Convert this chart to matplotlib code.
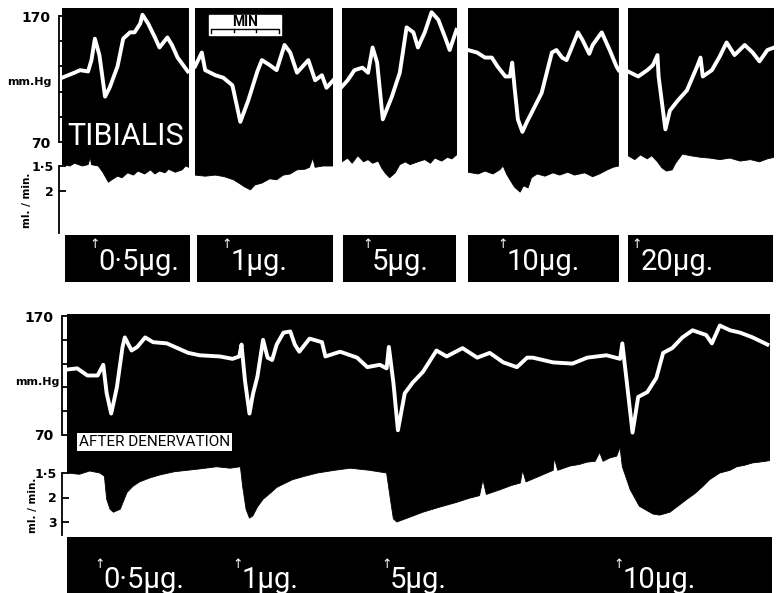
"""
Kymograph record: tibialis blood pressure and venous outflow after
injections of adrenaline, before and after denervation.
"""

import numpy as np
import matplotlib
matplotlib.use("Agg")
import matplotlib.pyplot as plt
from matplotlib.patches import Rectangle
from matplotlib.ticker import NullLocator
from matplotlib.transforms import blended_transform_factory

W, H = 776, 593
SEC_PER_PX = 60.0 / 68.0          # paper speed: the 1 min bar is 68 px long
LABEL_FONT = ["Roboto", "DejaVu Sans"]

# ---- innervated tibialis, one strip per dose --------------------------------
# time (s from strip start), pressure (mm Hg), outflow (ml/min)
doses = ["0·5µg.", "1µg.", "5µg.", "10µg.", "20µg."]
inject_s = [29, 28, 23, 31, 8]

bp_t_1 = [0, 11, 16, 23, 26, 29, 33, 38, 42, 49, 54, 60, 64, 69, 71, 76, 82, 86, 93, 97, 102, 111]
bp_1 = [121, 125, 127, 126, 135, 152, 139, 106, 113, 130, 152, 157, 157, 164, 171, 164, 153, 145, 153, 147, 137, 126]
flow_t_1 = [0, 7, 11, 18, 23, 25, 26, 32, 36, 41, 44, 49, 53, 58, 63, 67, 73, 78, 82, 86, 91, 94, 100, 106, 109, 112]
flow_1 = [1.48, 1.50, 1.46, 1.50, 1.48, 1.38, 1.48, 1.50, 1.60, 1.79, 1.74, 1.67, 1.70, 1.61, 1.65, 1.58,
          1.63, 1.56, 1.63, 1.58, 1.61, 1.55, 1.60, 1.56, 1.50, 1.52]

bp_t_2 = [0, 6, 9, 18, 25, 33, 40, 47, 55, 59, 66, 72, 79, 84, 90, 95, 100, 106, 112, 116, 122]
bp_2 = [130, 141, 127, 123, 121, 115, 86, 103, 126, 135, 131, 127, 147, 141, 125, 130, 135, 119, 123, 113, 119]
flow_t_2 = [0, 9, 18, 26, 34, 40, 44, 49, 53, 59, 66, 72, 78, 84, 90, 97, 101, 104, 106, 113, 122]
flow_2 = [1.65, 1.67, 1.65, 1.68, 1.74, 1.83, 1.90, 1.97, 1.85, 1.81, 1.72, 1.74, 1.65, 1.63, 1.56, 1.55,
          1.52, 1.39, 1.52, 1.50, 1.50]

bp_t_3 = [0, 5, 11, 18, 23, 27, 31, 36, 44, 51, 57, 63, 67, 73, 79, 85, 91, 95, 101]
bp_3 = [114, 119, 127, 129, 125, 145, 133, 88, 106, 125, 161, 157, 145, 157, 173, 167, 153, 143, 159]
flow_t_3 = [0, 5, 9, 14, 19, 23, 27, 32, 35, 38, 42, 47, 51, 56, 60, 67, 73, 78, 82, 88, 93, 97, 102]
flow_3 = [1.44, 1.39, 1.46, 1.36, 1.44, 1.41, 1.46, 1.43, 1.53, 1.61, 1.70, 1.61, 1.48, 1.44, 1.48, 1.44,
          1.41, 1.46, 1.39, 1.43, 1.38, 1.40, 1.34]

bp_t_4 = [0, 8, 15, 21, 26, 33, 37, 39, 41, 44, 48, 52, 56, 65, 74, 78, 83, 87, 97, 101, 107, 110, 118, 125, 131, 133]
bp_4 = [143, 141, 137, 137, 130, 122, 122, 133, 114, 88, 78, 86, 93, 109, 141, 143, 137, 135, 157, 151,
        140, 147, 157, 143, 130, 127]
flow_t_4 = [0, 9, 15, 22, 28, 31, 34, 37, 41, 46, 49, 53, 56, 61, 68, 75, 81, 88, 94, 103, 110, 116, 123, 128, 133]
flow_4 = [1.60, 1.63, 1.58, 1.63, 1.56, 1.50, 1.63, 1.74, 1.90, 2.03, 1.87, 1.92, 1.70, 1.63, 1.67, 1.61,
          1.65, 1.60, 1.65, 1.61, 1.68, 1.63, 1.56, 1.52, 1.50]

bp_t_5 = [0, 9, 17, 22, 26, 27, 33, 37, 44, 52, 61, 64, 66, 74, 81, 87, 94, 103, 110, 116, 123, 129]
bp_5 = [126, 122, 127, 131, 139, 122, 80, 95, 103, 111, 130, 137, 122, 127, 138, 149, 139, 147, 141, 134, 143, 145]
flow_t_5 = [0, 6, 11, 17, 21, 26, 30, 34, 39, 42, 48, 55, 64, 72, 81, 90, 99, 108, 116, 123, 129]
flow_5 = [1.36, 1.41, 1.35, 1.40, 1.36, 1.44, 1.53, 1.58, 1.56, 1.46, 1.34, 1.36, 1.38, 1.39, 1.41, 1.39,
          1.43, 1.41, 1.44, 1.40, 1.38]

# ---- after denervation, one continuous record -------------------------------
dn_doses = ["0·5µg.", "1µg.", "5µg.", "10µg."]
dn_inject_s = [29, 151, 282, 487]

dn_bp_t = [0, 9, 18, 27, 32, 35, 39, 44, 49, 51, 57, 62, 69, 76, 88, 107, 117, 135, 146, 152,
           154, 157, 161, 164, 168, 173, 177, 181, 185, 191, 197, 201, 205, 214, 225, 228, 241, 256, 265, 276,
           282, 284, 288, 292, 298, 305, 314, 326, 335, 349, 362, 373, 385, 397, 406, 411, 429, 446, 459, 476,
           488, 490, 494, 499, 504, 512, 520, 526, 534, 543, 552, 564, 569, 576, 585, 594, 605, 618]
dn_bp = [125, 126, 120, 120, 129, 105, 88, 110, 144, 152, 141, 144, 152, 148, 147, 139, 137, 136, 134, 136,
         146, 116, 88, 104, 119, 150, 135, 133, 146, 156, 157, 146, 140, 151, 148, 136, 140, 135, 127, 129,
         126, 144, 114, 74, 105, 114, 123, 141, 136, 143, 135, 139, 131, 127, 135, 135, 131, 130, 135, 137,
         134, 147, 114, 72, 102, 106, 118, 139, 143, 152, 158, 154, 147, 162, 158, 156, 152, 146]
dn_flow_t = [0, 11, 20, 29, 33, 35, 38, 41, 47, 53, 58, 64, 73, 82, 95, 106, 117, 132, 144, 153,
             155, 158, 161, 164, 168, 173, 179, 185, 192, 199, 210, 221, 236, 250, 267, 282, 286, 288, 291, 303,
             314, 329, 344, 355, 364, 367, 370, 382, 392, 400, 402, 405, 417, 429, 430, 433, 444, 452, 459, 466,
             470, 473, 479, 485, 488, 490, 497, 505, 517, 523, 532, 538, 547, 554, 561, 567, 576, 585, 591, 598,
             605, 611, 621]
dn_flow = [1.50, 1.52, 1.47, 1.50, 1.55, 2.05, 2.38, 2.50, 2.38, 1.87, 1.74, 1.65, 1.58, 1.53, 1.48, 1.46,
           1.44, 1.41, 1.43, 1.41, 1.74, 2.38, 2.78, 2.67, 2.30, 2.05, 1.90, 1.76, 1.68, 1.61, 1.55, 1.50,
           1.46, 1.43, 1.46, 1.50, 2.20, 2.82, 3.00, 2.72, 2.50, 2.30, 2.14, 2.02, 1.95, 1.61, 1.92, 1.81,
           1.72, 1.67, 1.46, 1.65, 1.55, 1.46, 1.30, 1.46, 1.40, 1.38, 1.35, 1.34, 1.24, 1.34, 1.30, 1.28,
           1.19, 1.41, 1.81, 2.27, 2.58, 2.63, 2.50, 2.30, 2.05, 1.90, 1.74, 1.61, 1.50, 1.46, 1.41, 1.39,
           1.36, 1.35, 1.33]

PRESSURE_LABELLED = [70, 170]
PRESSURE_MINOR = [90, 110, 130, 150]
MIN_BAR_START_S = 14
MIN_BAR_S = 60

# ---- layout (pixels of the 776 x 593 sheet) ---------------------------------
TOP_PANELS_X = [(62, 189), (195, 333), (342, 457), (468, 619), (628, 774)]
TOP_BOXES_X = [(65, 190), (197, 333), (343, 456), (468, 619), (628, 773)]
TOP_Y = (8, 233)
BOX_Y = (235, 282)
BOT_X = (67, 770)
BOT_Y = (314, 535)
STRIP_X = (67, 772)
STRIP_Y = (537, 593)
# calibration: (value, pixel row) pairs; the outflow recorder is linear in 1/flow
TOP_P_CAL = (170, 16, 70, 142)
TOP_F_CAL = (1 / 1.5, 166, 1 / 2, 191)
BOT_P_CAL = (170, 316, 70, 435)
BOT_F_CAL = (1 / 1.5, 473, 1 / 3, 522)


def rect(x0, x1, y0, y1):
    return [x0 / W, 1 - y1 / H, (x1 - x0) / W, (y1 - y0) / H]


def lin_lim(y0, y1, va, pa, vb, pb):
    k = (vb - va) / (pb - pa)
    return va + (y1 - pa) * k, va + (y0 - pa) * k


def bare_axes(fig, box, face="none"):
    ax = fig.add_axes(box, facecolor=face)
    for s in ax.spines.values():
        s.set_visible(False)
    ax.tick_params(which="both", left=False, bottom=False, labelleft=False, labelbottom=False)
    return ax


def draw_record(fig, xs, ys, p_cal, f_cal, bp_t, bp, fl_t, fl):
    x0, x1 = xs
    y0, y1 = ys
    xlim = (0, (x1 - x0) * SEC_PER_PX)
    # outflow drawn as the lower edge of the black record (axis in 1/flow)
    axf = bare_axes(fig, rect(x0, x1, y0, y1))
    axf.set_ylim(*lin_lim(y0, y1, *f_cal))
    axf.set_xlim(*xlim)
    axf.fill_between(fl_t, 1.0 / np.asarray(fl), 20, facecolor="black", edgecolor="black", lw=0.6)
    axp = bare_axes(fig, rect(x0, x1, y0, y1))
    axp.set_ylim(*lin_lim(y0, y1, *p_cal))
    axp.set_xlim(*xlim)
    axp.plot(bp_t, bp, color="white", lw=2.8, solid_joinstyle="round")
    return axf, axp


def add_scale(axf, axp, f_ticks, f_labels, offset_pt, p_pad, f_pad):
    for ax in (axp, axf):
        sp = ax.spines["left"]
        sp.set_visible(True)
        sp.set_position(("outward", offset_pt))
        sp.set_linewidth(1.3)
    axp.spines["left"].set_bounds(PRESSURE_LABELLED[0], PRESSURE_LABELLED[-1])
    axp.set_yticks(PRESSURE_LABELLED, [str(v) for v in PRESSURE_LABELLED])
    axp.set_yticks(PRESSURE_MINOR, minor=True)
    axp.tick_params(axis="y", which="both", left=True, direction="in", width=1.3)
    axp.tick_params(axis="y", which="major", length=5, labelleft=True, pad=p_pad, labelsize=10)
    axp.tick_params(axis="y", which="minor", length=4)
    r_ticks = [1.0 / f for f in f_ticks]
    axf.spines["left"].set_bounds(axf.get_ylim()[0], r_ticks[0])
    axf.set_yticks(r_ticks, f_labels)
    axf.yaxis.set_minor_locator(NullLocator())
    axf.tick_params(axis="y", which="major", left=True, direction="in", width=1.3,
                    length=5, labelleft=True, pad=f_pad, labelsize=9)
    for lab in axp.get_yticklabels() + axf.get_yticklabels():
        lab.set_fontweight("bold")


def dose_label(ax, t, text, arrow_y, base_y):
    tr = blended_transform_factory(ax.transData, ax.transAxes)
    ax.text(t, arrow_y, "↑", transform=tr, ha="center", va="center",
            color="white", fontsize=9, family="DejaVu Sans")
    ax.annotate(text, xy=(t, base_y), xycoords=tr, xytext=(2.5, 0), textcoords="offset points",
                ha="left", va="baseline", color="white", fontsize=21, family=LABEL_FONT)


fig = plt.figure(figsize=(W / 100, H / 100), dpi=100)
fig.patch.set_facecolor("white")

top_bp_t = [bp_t_1, bp_t_2, bp_t_3, bp_t_4, bp_t_5]
top_bp = [bp_1, bp_2, bp_3, bp_4, bp_5]
top_fl_t = [flow_t_1, flow_t_2, flow_t_3, flow_t_4, flow_t_5]
top_fl = [flow_1, flow_2, flow_3, flow_4, flow_5]

top_axes = []
for i, xs in enumerate(TOP_PANELS_X):
    top_axes.append(draw_record(fig, xs, TOP_Y, TOP_P_CAL, TOP_F_CAL,
                                top_bp_t[i], top_bp[i], top_fl_t[i], top_fl[i]))

axf1, axp1 = top_axes[0]
add_scale(axf1, axp1, [1.5, 2], ["1·5", "2"], offset_pt=2.2, p_pad=6, f_pad=4)
axp1.text(0.045, 0.43, "TIBIALIS", transform=axp1.transAxes, color="white",
          fontsize=22, family=LABEL_FONT, ha="left", va="center")

# one-minute time bar in the second strip
axp2 = top_axes[1][1]
axp2.add_patch(Rectangle((MIN_BAR_START_S - 2, 155), MIN_BAR_S + 4, 16,
                         facecolor="white", edgecolor="white", zorder=3))
axp2.plot([MIN_BAR_START_S, MIN_BAR_START_S, MIN_BAR_START_S + MIN_BAR_S, MIN_BAR_START_S + MIN_BAR_S],
          [156.5, 159.5, 159.5, 156.5], color="black", lw=1.0, zorder=4)
for k in (1, 2):
    axp2.plot([MIN_BAR_START_S + k * MIN_BAR_S / 3] * 2, [159.5, 157.3], color="black", lw=1.0, zorder=4)
axp2.text(MIN_BAR_START_S + MIN_BAR_S / 2, 165.5, "MIN", ha="center", va="center",
          fontsize=10, fontweight="bold", family=LABEL_FONT, color="black", zorder=5)

for (bx0, bx1), (px0, _), t_inj, dose in zip(TOP_BOXES_X, TOP_PANELS_X, inject_s, doses):
    axb = bare_axes(fig, rect(bx0, bx1, *BOX_Y), face="black")
    axb.set_xlim((bx0 - px0) * SEC_PER_PX, (bx1 - px0) * SEC_PER_PX)
    axb.set_ylim(0, 1)
    dose_label(axb, t_inj, dose, 0.79, 0.255)

axfb, axpb = draw_record(fig, BOT_X, BOT_Y, BOT_P_CAL, BOT_F_CAL, dn_bp_t, dn_bp, dn_flow_t, dn_flow)
add_scale(axfb, axpb, [1.5, 2, 3], ["1·5", "2", "3"], offset_pt=3.6, p_pad=6, f_pad=4)
axpb.text(0.017, 0.42, "AFTER DENERVATION", transform=axpb.transAxes, color="black",
          fontsize=11, family=LABEL_FONT, ha="left", va="center",
          bbox=dict(boxstyle="square,pad=0.15", facecolor="white", edgecolor="none"))

axs = bare_axes(fig, rect(*STRIP_X, *STRIP_Y), face="black")
axs.set_xlim(0, (STRIP_X[1] - BOT_X[0]) * SEC_PER_PX)
axs.set_ylim(0, 1)
for t_inj, dose in zip(dn_inject_s, dn_doses):
    dose_label(axs, t_inj, dose, 0.5, 0.09)

# axis captions
fig.text(52 / W, 1 - 82 / H, "mm.Hg", ha="right", va="center", fontsize=8, fontweight="bold")
fig.text(27 / W, 1 - 200 / H, "ml. / min.", ha="center", va="center", rotation=90,
         fontsize=7.5, fontweight="bold")
fig.text(60 / W, 1 - 382 / H, "mm.Hg", ha="right", va="center", fontsize=8, fontweight="bold")
fig.text(33 / W, 1 - 505 / H, "ml. / min.", ha="center", va="center", rotation=90,
         fontsize=7.5, fontweight="bold")

fig.savefig("out.png", dpi=100, facecolor="white")
plt.close(fig)
